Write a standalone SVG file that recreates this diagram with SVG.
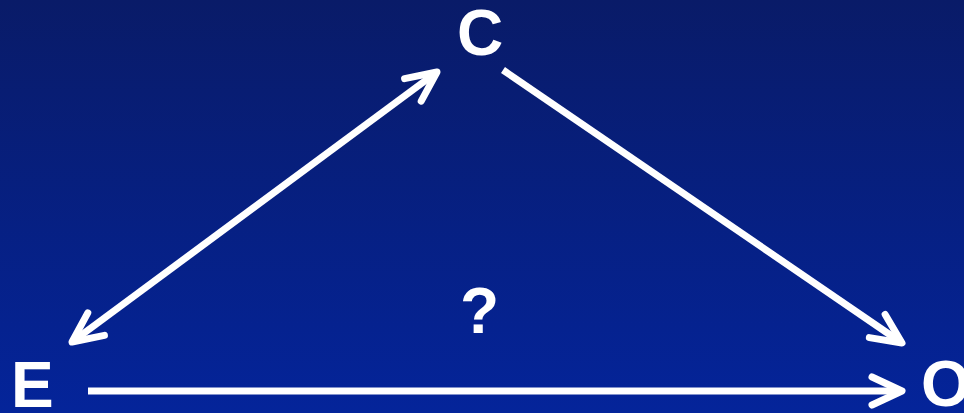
<svg xmlns="http://www.w3.org/2000/svg" width="964" height="413" viewBox="0 0 964 413">
<defs>
<linearGradient id="bg" x1="0" y1="0" x2="0" y2="1">
<stop offset="0" stop-color="#091b68"/>
<stop offset="1" stop-color="#04249a"/>
</linearGradient>
<marker id="ah" markerUnits="userSpaceOnUse" viewBox="-40 -20 46 40" refX="0" refY="0" markerWidth="46" markerHeight="40" orient="auto-start-reverse" overflow="visible">
<path d="M-30,-14 L0,0 L-30,14" fill="none" stroke="#ffffff" stroke-width="7" stroke-linecap="round" stroke-linejoin="round"/>
</marker>
<style>
.lbl{font-family:"Liberation Sans",Arial,sans-serif;font-weight:bold;font-size:64px;fill:#ffffff}
.edge{stroke:#ffffff;stroke-width:7;fill:none;stroke-linecap:butt}
</style>
</defs>
<rect x="0" y="0" width="964" height="413" fill="url(#bg)"/>
<g id="connectors">
<line class="edge" x1="72" y1="342" x2="437" y2="72" marker-start="url(#ah)" marker-end="url(#ah)"/>
<line class="edge" x1="503" y1="70" x2="902" y2="343" marker-end="url(#ah)"/>
<line class="edge" x1="88" y1="391" x2="902" y2="391" marker-end="url(#ah)"/>
</g>
<g id="node-C"><text class="lbl" x="457" y="55">C</text></g>
<g id="node-E"><text class="lbl" x="11" y="407">E</text></g>
<g id="node-O"><text class="lbl" x="921" y="406">O</text></g>
<g id="node-q"><text class="lbl" x="460" y="333">?</text></g>
</svg>
